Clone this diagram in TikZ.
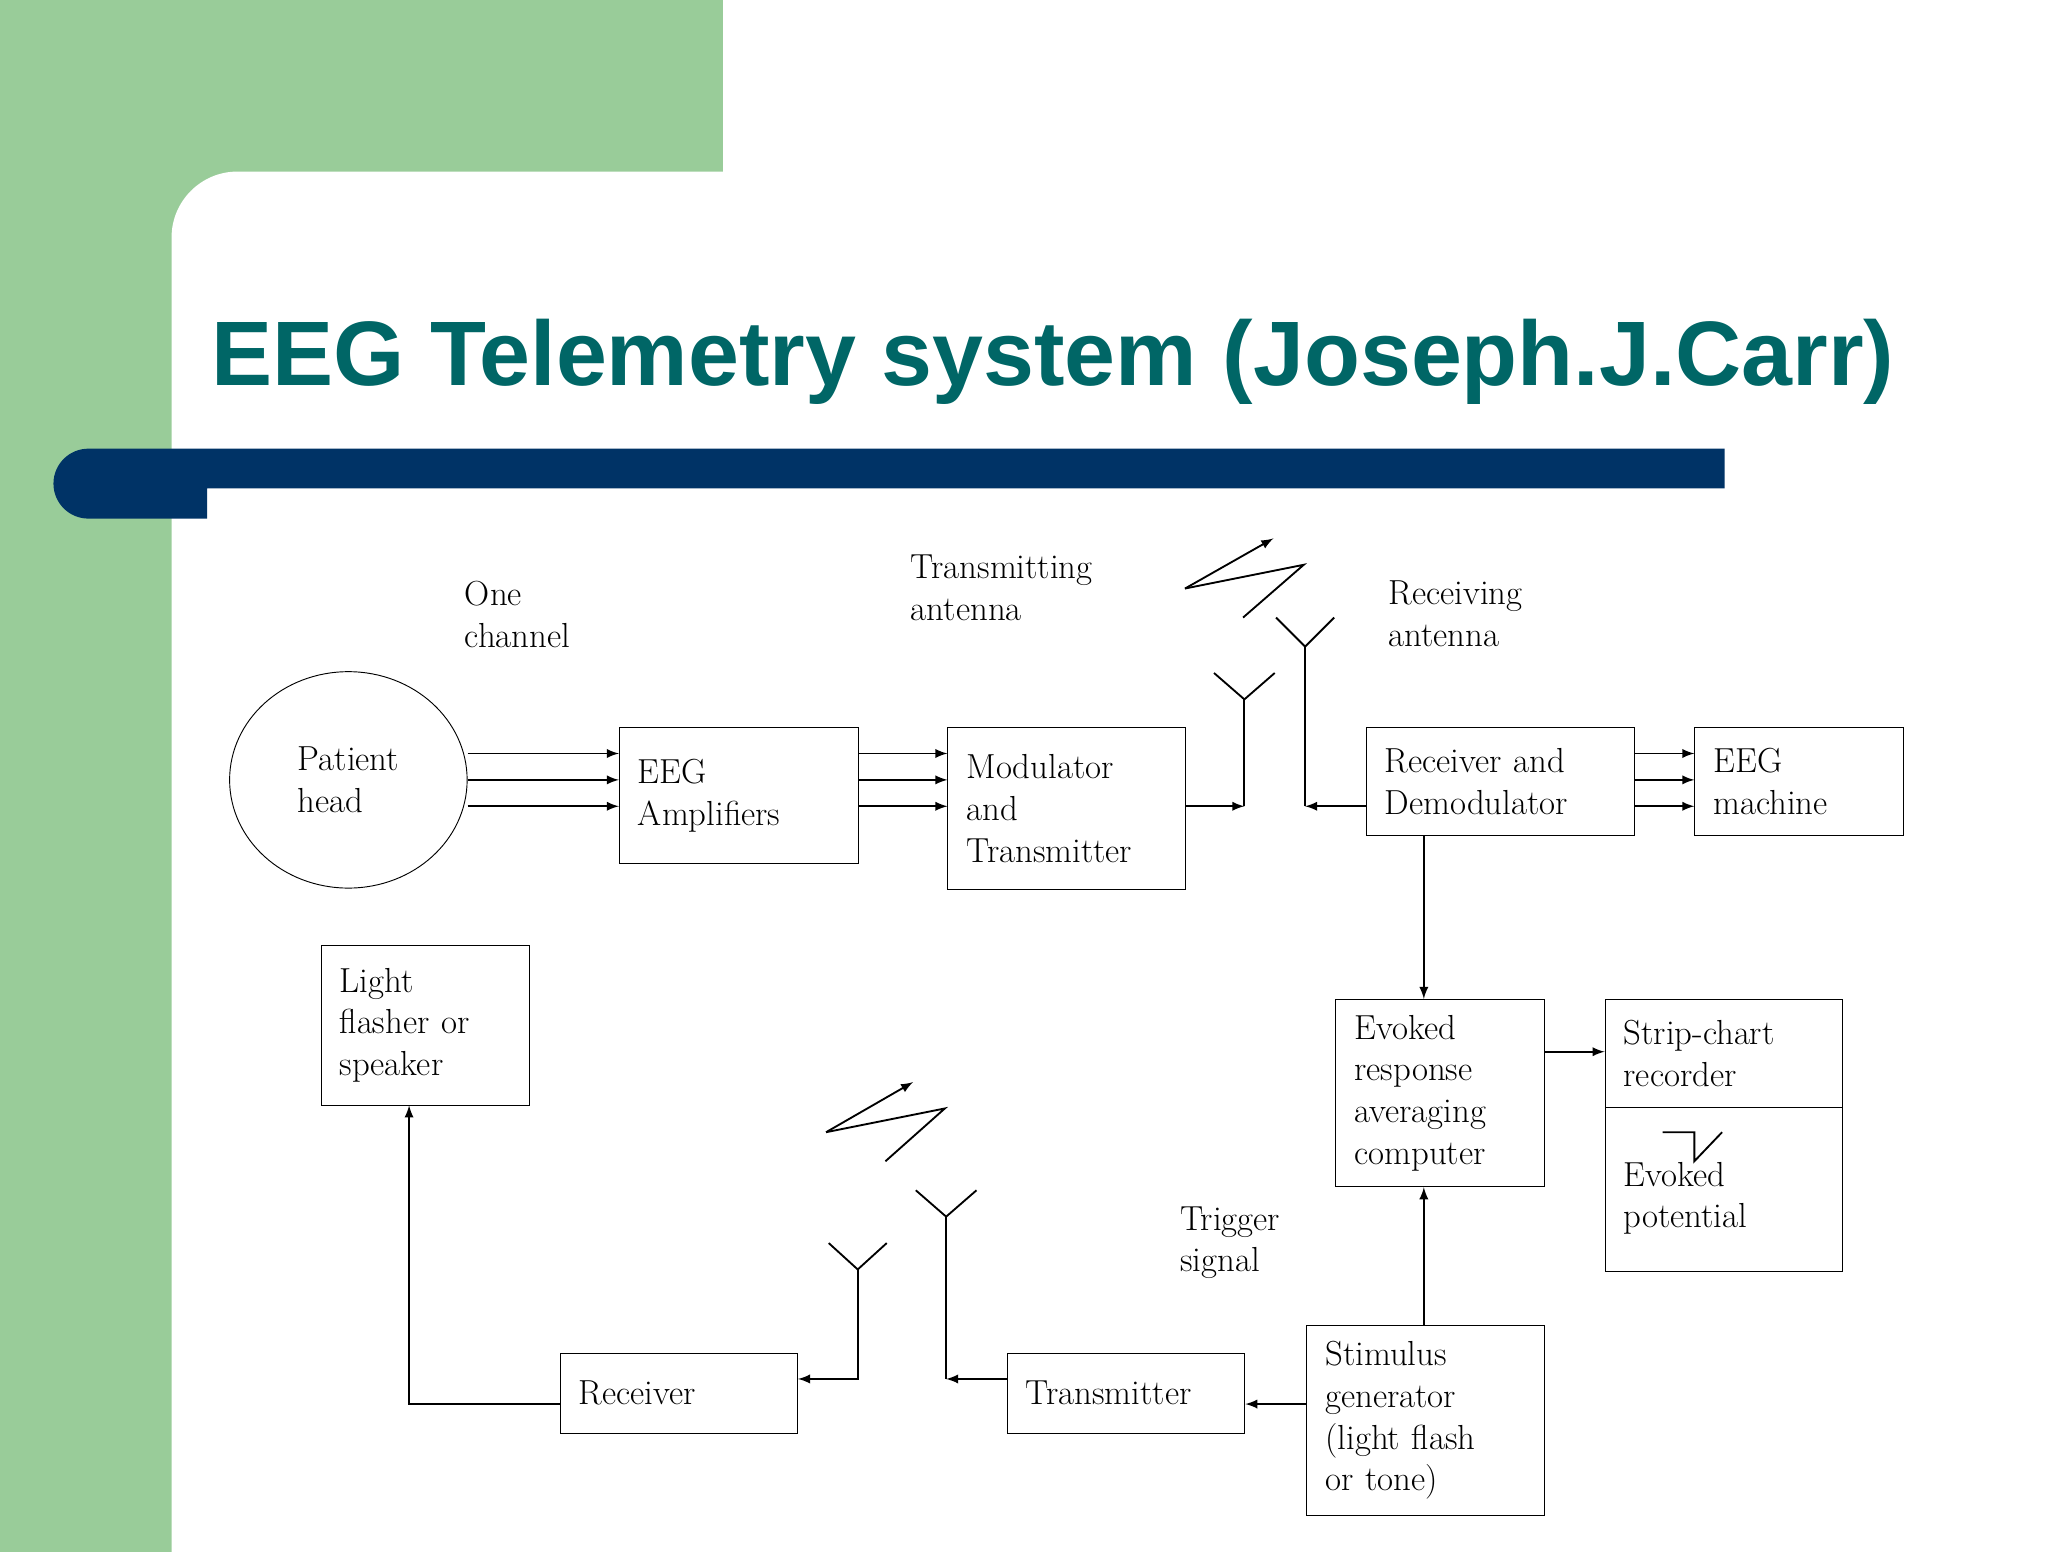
\documentclass[tikz,border=0pt]{standalone}
\usepackage{fontspec}
\newfontfamily\titlefont{Liberation Sans}
\usetikzlibrary{arrows,shapes.geometric}
\newcommand\pxu{0.02cm}
\definecolor{slidegreen}{RGB}{153,204,153}
\definecolor{slidenavy}{RGB}{0,51,102}
\definecolor{titleteal}{RGB}{0,102,102}
\tikzset{
  box_/.style 2 args = {shape=rectangle, draw, align=left, anchor=north west,
    minimum width=#1*\pxu, minimum height=#2*\pxu, text width=#1*\pxu-16pt,
    inner xsep=8pt, inner ysep=4pt, font=\fontsize{15}{18}\selectfont},
  lbl_/.style = {align=left, anchor=north west, inner sep=0pt, font=\fontsize{15}{18}\selectfont},
  arr_/.style = {draw, -latex, line width=0.8pt},
  ln_/.style  = {draw, line width=0.8pt}
}
\begin{document}
\begin{tikzpicture}[x=\pxu, y=-\pxu]
  % slide background
  \useasboundingbox (0,0) rectangle (1552,1176);
  \fill[slidegreen] (0,0) rectangle (548,200);
  \fill[slidegreen] (0,0) rectangle (200,1176);
  \fill[white, rounded corners=1cm] (130,1300) -- (130,130) -- (700,130) -- (700,1300) -- cycle;
  \node[anchor=base west, inner sep=0pt, text=titleteal,
        font=\titlefont\bfseries\fontsize{39.5}{46}\selectfont] (title) at (160,292) {EEG Telemetry system (Joseph.J.Carr)};
  \fill[slidenavy] (1307,340) -- (67,340) arc[start angle=90, end angle=270, radius=26.5*\pxu] -- (157,393) -- (157,370) -- (1307,370) -- cycle;

  % blocks
  \node[draw, ellipse, minimum width=180*\pxu, minimum height=164*\pxu, align=left,
        font=\fontsize{15}{18}\selectfont] (head) at (264,591) {Patient\\head};
  \node[box_={181}{103}] (amp) at (469,551) {EEG\\Amplifiers};
  \node[box_={180}{123}] (mod) at (718,551) {Modulator\\and\\Transmitter};
  \node[box_={203}{82}] (rxd) at (1035,551) {Receiver and\\Demodulator};
  \node[box_={158}{82}] (eeg) at (1284,551) {EEG\\machine};
  \node[box_={158}{142}] (evk) at (1012,757) {Evoked\\response\\averaging\\computer};
  \node[box_={180}{82}] (strip) at (1216,757) {Strip-chart\\recorder};
  \node[box_={180}{124}] (pot) at (1216,839) {\\Evoked\\potential};
  \node[box_={158}{121}] (light) at (243,716) {Light\\flasher or\\speaker};
  \node[box_={180}{61}] (rcv) at (424,1025) {Receiver};
  \node[box_={180}{61}] (tx) at (763,1025) {Transmitter};
  \node[box_={180}{144}] (stim) at (990,1004) {Stimulus\\generator\\(light flash\\or tone)};

  % labels
  \node[lbl_] (lch) at (352,440) {One\\channel};
  \node[lbl_] (ltx) at (690,420) {Transmitting\\antenna};
  \node[lbl_] (lrx) at (1052,440) {Receiving\\antenna};
  \node[lbl_] (ltr) at (894,914) {Trigger\\signal};

  % antennas
  \coordinate (a1) at (943,611); \coordinate (a1t) at (943,530);
  \coordinate (a2) at (989,611); \coordinate (a2t) at (989,490);
  \coordinate (a3) at (717,1045); \coordinate (a3t) at (717,922);
  \coordinate (a4) at (650,1045); \coordinate (a4t) at (650,962);
  \draw[ln_] (920,510) -- (a1t) -- (966,510);
  \draw[ln_] (967,468) -- (a2t) -- (1011,468);
  \draw[ln_] (694,902) -- (a3t) -- (740,902);
  \draw[ln_] (628,942) -- (a4t) -- (672,942);

  % radio links
  \draw[ln_] (988,428) -- (898,446) -- (988,428) -- (942,468);
  \draw[arr_] (898,446) -- (965,408);
  \draw[ln_] (716,840) -- (626,858) -- (716,840) -- (671,880);
  \draw[arr_] (626,858) -- (692,820);
  \draw[ln_] (1260,858) -- (1284,858) -- (1284,880) -- (1305,858);

  % connectors
  \foreach \yy in {571,591,611} {
    \draw[arr_] (head.east |- 0,\yy) -- (amp.west |- 0,\yy);
    \draw[arr_] (amp.east |- 0,\yy) -- (mod.west |- 0,\yy);
    \draw[arr_] (rxd.east |- 0,\yy) -- (eeg.west |- 0,\yy);
  }
  \draw[arr_] (mod.east |- a1) -- (a1);
  \draw[ln_] (a1) -- (a1t);
  \draw[arr_] (rxd.west |- a2) -- (a2);
  \draw[ln_] (a2) -- (a2t);
  \draw[arr_] (rxd.south -| 1079,0) -- (evk.north -| 1079,0);
  \draw[arr_] (evk.east |- 0,797) -- (strip.west |- 0,797);
  \draw[arr_] (stim.north -| 1079,0) -- (evk.south -| 1079,0);
  \draw[arr_] (stim.west |- 0,1064) -- (tx.east |- 0,1064);
  \draw[arr_] (tx.west |- a3) -- (a3);
  \draw[ln_] (a3) -- (a3t);
  \draw[arr_] (a4t) -- (a4) -- (rcv.east |- a4);
  \draw[arr_] (rcv.west |- 0,1064) -- (310,1064) -- (light.south -| 310,0);
\end{tikzpicture}
\end{document}
